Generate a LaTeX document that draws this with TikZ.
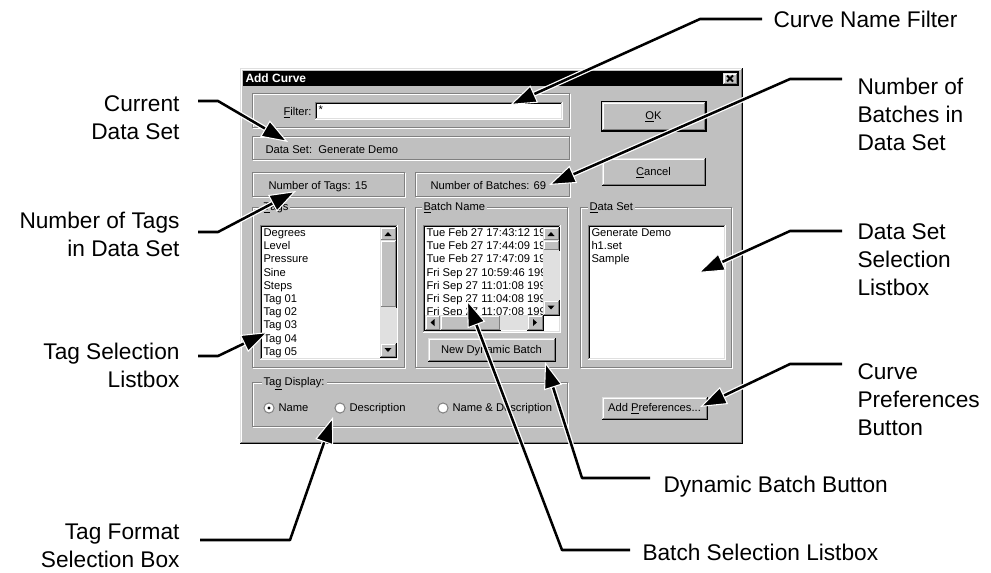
\documentclass[tikz,border=0pt]{standalone}
\usepackage{fontspec}
\setmainfont{Liberation Sans}
\usetikzlibrary{arrows.meta}
\definecolor{wface}{RGB}{192,192,192}
\definecolor{wshadow}{RGB}{128,128,128}
\definecolor{wlight}{RGB}{223,223,223}
\definecolor{wtrack}{RGB}{224,224,224}
% raised (button) frame
\newcommand\wraised[4]{%
  \fill[wface] (#1,#2) rectangle (#3,#4);
  \draw[wlight] (#1,#4) |- (#3,#2);
  \draw[black] (#1,#4) -| (#3,#2);
  \draw[white] (#1+1,#4-1) |- (#3-1,#2+1);
  \draw[wshadow] (#1+1,#4-1) -| (#3-1,#2+1);
}
% sunken white field
\newcommand\wsunken[4]{%
  \fill[white] (#1,#2) rectangle (#3,#4);
  \draw[wshadow] (#1,#4) |- (#3,#2);
  \draw[white] (#1,#4) -| (#3,#2);
  \draw[black] (#1+1,#4-1) |- (#3-1,#2+1);
  \draw[wlight] (#1+1,#4-1) -| (#3-1,#2+1);
}
% etched frame
\newcommand\wetched[4]{%
  \draw[white] (#1+1,#2+1) rectangle (#3,#4);
  \draw[wshadow] (#1,#2) rectangle (#3-1,#4-1);
}
\newcommand\wtrackbox[4]{\fill[wtrack] (#1,#2) rectangle (#3,#4);}
\newcommand\leaderline[3]{%
  \draw[halo] (#1) -- (#2) -- (#3);
  \draw[leader] (#1) -- (#2) -- (#3);
}
\begin{document}
\begin{tikzpicture}[x=0.75pt,y=-0.75pt,line width=0.75pt,
  ui/.style={font=\fontsize{8.4}{10}\selectfont, inner sep=0pt, anchor=base west},
  uic/.style={font=\fontsize{8.4}{10}\selectfont, inner sep=0pt, anchor=base},
  grouplbl/.style={ui, fill=wface, inner xsep=1.5pt},
  lblL/.style={font=\fontsize{17}{21}\selectfont, inner sep=0pt, align=left, anchor=north west},
  lblR/.style={font=\fontsize{17}{21}\selectfont, inner sep=0pt, align=right, anchor=north east},
  lblS/.style={font=\fontsize{17}{21}\selectfont, inner sep=0pt, anchor=base west},
  halo/.style={white, line width=3.8pt, shorten >=9pt, line join=round},
  leader/.style={black, line width=1.9pt, line join=round,
     -{Triangle[length=20pt,width=14pt,fill=black,color=white,line width=0.8pt]}}
]
\useasboundingbox (0,0) rectangle (991,572);

% ---------- dialog window ----------
\fill[wface] (240,68) rectangle (742,443);
\draw[wlight] (240,443) |- (742,68);
\draw[black] (240,443) -| (742,68);
\draw[white] (241,442) |- (741,69);
\draw[wshadow] (241,442) -| (741,69);
\fill[black] (243,71) rectangle (739,86);
\node[font=\fontsize{9}{10}\selectfont\bfseries, text=white, inner sep=0pt, anchor=base west] (title) at (245,82.5) {Add Curve};
\wraised{723}{73}{737}{84}
\draw[black, line width=1.4pt] (727,75.5) -- (733,81.5) (733,75.5) -- (727,81.5);

% Filter group
\wetched{252}{93}{570}{128}
\node[ui, anchor=base east] (filterlbl) at (312,115) {\underline{F}ilter:};
\wsunken{315}{102}{562}{119}
\node[ui] (filterval) at (318,113) {*};

% static boxes
\wetched{252}{136}{570}{160}
\node[ui] (dsval) at (265,153) {Data Set:\ \ Generate Demo};
\wetched{252}{172}{405}{197}
\node[ui] (ntags) at (268,189) {Number of Tags: 15};
\wetched{415}{172}{570}{197}
\node[ui] (nbatch) at (430,189) {Number of Batches: 69};

% OK / Cancel
\draw[black] (601,101) rectangle (706,131);
\wraised{602}{102}{705}{130}
\node[uic] (okbtn) at (653.5,119) {\underline{O}K};
\wraised{602}{158}{705}{185}
\node[uic] (cancelbtn) at (653.5,175) {\underline{C}ancel};

% Tags group
\wetched{252}{207}{405}{368}
\node[grouplbl] (tagsg) at (261,210.5) {\underline{T}ags};
\wsunken{260}{225}{397}{359}
\foreach \t [count=\i from 0] in {Degrees,Level,Pressure,Sine,Steps,Tag 01,Tag 02,Tag 03,Tag 04,Tag 05}
  \node[ui] (tag\i) at (263,236.5+13.2*\i) {\t};
\wraised{380}{227}{396}{240}
\fill[black] (384.5,236) -- (391.5,236) -- (388,232) -- cycle;
\wraised{380}{240}{396}{307}
\wtrackbox{380}{307}{396}{343}
\wraised{380}{343}{396}{357}
\fill[black] (384.5,348) -- (391.5,348) -- (388,352) -- cycle;

% Batch Name group
\wetched{415}{207}{568}{368}
\node[grouplbl] (batchg) at (421,210.5) {\underline{B}atch Name};
\wsunken{423}{225}{560}{332}
\begin{scope}
  \clip (425,227) rectangle (543,315);
  \foreach \t [count=\i from 0] in {Tue Feb 27 17:43:12 19,Tue Feb 27 17:44:09 19,Tue Feb 27 17:47:09 19,Fri Sep 27 10:59:46 199,Fri Sep 27 11:01:08 199,Fri Sep 27 11:04:08 199,Fri Sep 27 11:07:08 199}
    \node[ui] (batch\i) at (426,236.5+13.2*\i) {\t};
\end{scope}
\wraised{543}{227}{559}{240}
\fill[black] (547.5,236) -- (554.5,236) -- (551,232) -- cycle;
\wraised{543}{240}{559}{250}
\wtrackbox{543}{250}{559}{300}
\wraised{543}{300}{559}{315}
\fill[black] (547.5,305.5) -- (554.5,305.5) -- (551,309.5) -- cycle;
\wraised{425}{315}{440}{330}
\fill[black] (434.5,319) -- (434.5,326) -- (430.5,322.5) -- cycle;
\wraised{440}{315}{500}{330}
\wtrackbox{500}{315}{527}{330}
\wraised{527}{315}{543}{330}
\fill[black] (533,319) -- (533,326) -- (537,322.5) -- cycle;
\wraised{428}{338}{555}{361}
\node[uic] (ndbbtn) at (491.5,353.5) {New Dynamic Batch};

% Data Set group
\wetched{580}{207}{732}{368}
\node[grouplbl] (dsg) at (587,210.5) {\underline{D}ata Set};
\wsunken{588}{225}{725}{359}
\foreach \t [count=\i from 0] in {Generate Demo,h1.set,Sample}
  \node[ui] (ds\i) at (591,236.5+13.2*\i) {\t};

% Tag Display group
\wetched{252}{382}{568}{427}
\node[grouplbl] (tdg) at (261,385.5) {Ta\underline{g} Display:};
\draw[wshadow, fill=white] (269,408) circle (3.8pt);
\fill[black] (269,408) circle (1.3pt);
\node[ui] (rname) at (278,411.5) {Name};
\draw[wshadow, fill=white] (340,408) circle (3.8pt);
\node[ui] (rdesc) at (349,411.5) {Description};
\draw[wshadow, fill=white] (443,408) circle (3.8pt);
\node[ui] (rboth) at (452,411.5) {Name \& Description};

% Add Preferences
\wraised{602}{397}{707}{419}
\node[uic] (addpref) at (654.5,411) {Add \underline{P}references...};

% ---------- callout labels ----------
\node[lblS] (lcnf) at (773,27) {Curve Name Filter};
\node[lblL] (lnob) at (857,78) {Number of\\Batches in\\Data Set};
\node[lblL] (ldss) at (857,223) {Data Set\\Selection\\Listbox};
\node[lblL] (lcpb) at (857,363) {Curve\\Preferences\\Button};
\node[lblS] (ldbb) at (663,492) {Dynamic Batch Button};
\node[lblS] (lbsl) at (642,560) {Batch Selection Listbox};
\node[lblR] (lcds) at (180,95) {Current\\Data Set};
\node[lblR] (lnot) at (180,212) {Number of Tags\\in Data Set};
\node[lblR] (ltsl) at (180,343) {Tag Selection\\Listbox};
\node[lblR] (ltfs) at (180,523) {Tag Format\\Selection Box};

% leader coordinates
\coordinate (cnfS) at (762,19);  \coordinate (cnfB) at (700,19);  \coordinate (cnfT) at (510,105);
\coordinate (nobS) at (842,79);  \coordinate (nobB) at (790,79);  \coordinate (nobT) at (549,185);
\coordinate (dssS) at (842,231); \coordinate (dssB) at (790,231); \coordinate (dssT) at (698,273);
\coordinate (cpbS) at (842,364); \coordinate (cpbB) at (790,364); \coordinate (cpbT) at (700,407);
\coordinate (dbbS) at (650,478); \coordinate (dbbB) at (582,478); \coordinate (dbbT) at (545,362);
\coordinate (bslS) at (630,550); \coordinate (bslB) at (562,550); \coordinate (bslT) at (467,300);
\coordinate (cdsS) at (198,101); \coordinate (cdsB) at (218,101); \coordinate (cdsT) at (288,142);
\coordinate (notS) at (198,232); \coordinate (notB) at (218,232); \coordinate (notT) at (296,191);
\coordinate (tslS) at (198,356); \coordinate (tslB) at (218,356); \coordinate (tslT) at (268,332);
\coordinate (tfsS) at (200,540); \coordinate (tfsB) at (290,540); \coordinate (tfsT) at (333,417);

\leaderline{cnfS}{cnfB}{cnfT}
\leaderline{nobS}{nobB}{nobT}
\leaderline{dssS}{dssB}{dssT}
\leaderline{cpbS}{cpbB}{cpbT}
\leaderline{dbbS}{dbbB}{dbbT}
\leaderline{bslS}{bslB}{bslT}
\leaderline{cdsS}{cdsB}{cdsT}
\leaderline{notS}{notB}{notT}
\leaderline{tslS}{tslB}{tslT}
\leaderline{tfsS}{tfsB}{tfsT}
\end{tikzpicture}
\end{document}
